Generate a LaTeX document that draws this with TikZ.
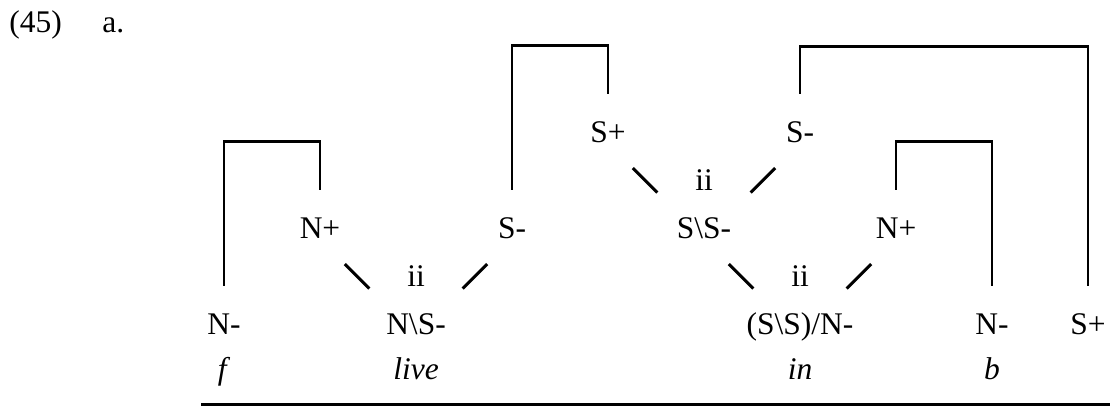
\documentclass[tikz,border=0pt]{standalone}
\usepackage{fontspec}
\setmainfont{Liberation Serif}
\tikzset{
  cat/.style={anchor=base, inner sep=0pt, text height=1.225cm, text depth=0pt},
  lbl/.style={anchor=base, inner sep=0pt},
  link/.style={line width=0.075cm, shorten <=0.875cm, shorten >=1.65cm},
  bracket/.style={line width=0.068cm},
}
\begin{document}
\begin{tikzpicture}
                    \useasboundingbox (0,0) rectangle (27.750000,10.200000);
                    {\fontsize{22.4pt}{27pt}\selectfont

                    % Example number
                    \draw (0.225000,9.375000) node (num) [lbl, anchor=base west] { (45) };%
                    \draw (2.550000,9.375000) node (sub) [lbl, anchor=base west] { a. };%

                    % Marking words
                    \draw (5.600000,0.700000) node (wf) [lbl] { \textit{f} };%
                    \draw (10.400000,0.700000) node (wlive) [lbl] { \textit{live} };%
                    \draw (20.000000,0.700000) node (win) [lbl] { \textit{in} };%
                    \draw (24.800000,0.700000) node (wb) [lbl] { \textit{b} };%

                    % Marking categories, lower row
                    \draw (5.600000,1.825000) node (nf) [cat] { N- };%
                    \draw (10.400000,1.825000) node (nlive) [cat] { N\textbackslash S- };%
                    \draw (20.000000,1.825000) node (nin) [cat] { (S\textbackslash S)/N- };%
                    \draw (24.800000,1.825000) node (nb) [cat] { N- };%
                    \draw (27.200000,1.825000) node (send) [cat] { S+ };%

                    % Marking categories, middle row
                    \draw (8.000000,4.225000) node (nlivearg) [cat] { N+ };%
                    \draw (12.800000,4.225000) node (slive) [cat] { S- };%
                    \draw (17.600000,4.225000) node (ssin) [cat] { S\textbackslash S- };%
                    \draw (22.400000,4.225000) node (ninarg) [cat] { N+ };%

                    % Marking categories, upper row
                    \draw (15.200000,6.625000) node (sinarg) [cat] { S+ };%
                    \draw (20.000000,6.625000) node (sin) [cat] { S- };%

                    % Marking ii
                    \draw (10.400000,3.025000) node (iilive) [lbl] { ii };%
                    \draw (20.000000,3.025000) node (iiin) [lbl] { ii };%
                    \draw (17.600000,5.425000) node (iiss) [lbl] { ii };%

                    % Drawing links
                    \draw [link] (nlivearg.south) -- (nlive.south);%
                    \draw [link] (slive.south) -- (nlive.south);%
                    \draw [link] (ssin.south) -- (nin.south);%
                    \draw [link] (ninarg.south) -- (nin.south);%
                    \draw [link] (sinarg.south) -- (ssin.south);%
                    \draw [link] (sin.south) -- (ssin.south);%

                    % Drawing brackets
                    \draw [bracket] (nf.north) -- ++(0,3.600000) -| (nlivearg.north);%
                    \draw [bracket] (slive.north) -- ++(0,3.600000) -| (sinarg.north);%
                    \draw [bracket] (sin.north) -- ++(0,1.175000) -| (send.north);%
                    \draw [bracket] (ninarg.north) -- ++(0,1.200000) -| (nb.north);%

                    % Drawing underline
                    \draw [line width=0.075cm] (5.025000,0.075000) -- (27.750000,0.075000);%
                    }
\end{tikzpicture}
\end{document}
